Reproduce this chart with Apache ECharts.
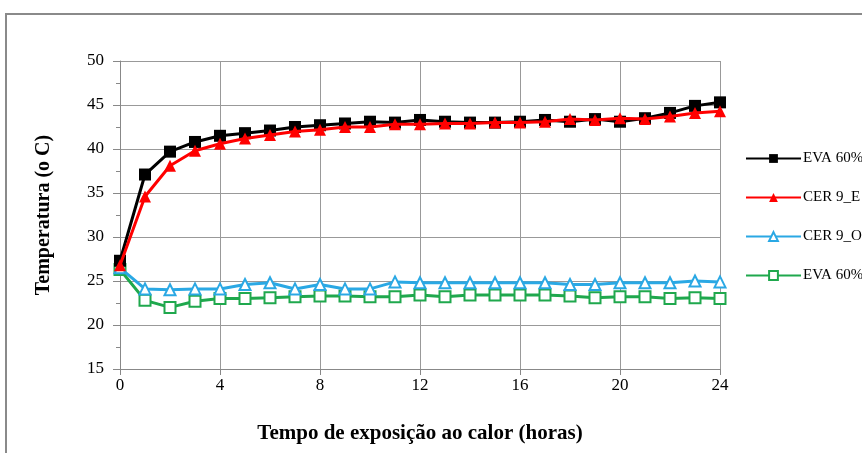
<!DOCTYPE html>
<html>
<head>
<meta charset="utf-8">
<script src="https://cdn.jsdelivr.net/npm/echarts@6/dist/echarts.min.js"></script>
<style>
html,body{margin:0;padding:0;background:#fff;}
#chart{width:862px;height:453px;}
</style>
</head>
<body>
<div id="chart"></div>
<script>
const hours = [0,1,2,3,4,5,6,7,8,9,10,11,12,13,14,15,16,17,18,19,20,21,22,23,24];
const evaE = [27.3,37.1,39.7,40.8,41.5,41.8,42.1,42.5,42.7,42.9,43.1,43.0,43.3,43.1,43.0,43.0,43.1,43.3,43.1,43.4,43.1,43.5,44.1,44.9,45.3];
const cerE = [26.8,34.6,38.1,39.8,40.6,41.2,41.6,42.0,42.2,42.5,42.5,42.8,42.8,42.9,42.9,43.0,43.0,43.1,43.4,43.3,43.5,43.4,43.7,44.1,44.3];
const cerO = [26.5,24.1,24.0,24.1,24.1,24.6,24.8,24.1,24.6,24.1,24.1,24.9,24.8,24.8,24.8,24.8,24.8,24.8,24.6,24.6,24.8,24.8,24.8,25.0,24.9];
const evaO = [26.3,22.8,22.0,22.7,23.0,23.0,23.1,23.2,23.3,23.3,23.2,23.2,23.4,23.2,23.4,23.4,23.4,23.4,23.3,23.1,23.2,23.2,23.0,23.1,23.0];
const names = ['EVA 60%_E','CER 9_E','CER 9_O','EVA 60%_O'];
const xTitle = 'Tempo de exposição ao calor (horas)';
const yTitle = 'Temperatura (o C)';

const pair = arr => hours.map((h,i)=>[h,arr[i]]);
const font = 'Liberation Serif';
const chart = echarts.init(document.getElementById('chart'));
chart.setOption({
  animation:false,
  backgroundColor:'#fff',
  graphic:[{type:'rect',shape:{x:6,y:14,width:900,height:500},style:{fill:'none',stroke:'#8a8a8a',lineWidth:2},silent:true}],
  grid:{left:120,right:142,top:61,bottom:84},
  legend:{
    orient:'vertical', left:740, top:146, itemGap:24, itemWidth:55, itemHeight:11,
    textStyle:{fontFamily:font,fontSize:15,color:'#000',padding:[0,0,0,-3]},
    data:names
  },
  xAxis:{
    type:'value', min:0, max:24, interval:4,
    name:xTitle, nameLocation:'middle', nameGap:54,
    nameTextStyle:{fontFamily:font,fontSize:21,fontWeight:'bold',color:'#000'},
    axisLine:{lineStyle:{color:'#888',width:1}},
    axisTick:{show:true,length:6,lineStyle:{color:'#888'}},
    axisLabel:{fontFamily:font,fontSize:17,color:'#000',margin:8},
    splitLine:{show:true,lineStyle:{color:'#999',width:1}}
  },
  yAxis:{
    type:'value', min:15, max:50, interval:5,
    name:yTitle, nameLocation:'middle', nameGap:66, nameRotate:90,
    nameTextStyle:{fontFamily:font,fontSize:20,fontWeight:'bold',color:'#000'},
    axisLine:{show:true,lineStyle:{color:'#888',width:1}},
    axisTick:{show:true,length:7,lineStyle:{color:'#888'}},
    minorTick:{show:true,splitNumber:2,length:4,lineStyle:{color:'#888'}},
    axisLabel:{fontFamily:font,fontSize:17,color:'#000',margin:16},
    splitLine:{show:true,lineStyle:{color:'#999',width:1}}
  },
  series:[
    {name:names[3],type:'line',data:pair(evaO),symbol:'rect',symbolSize:11,
     lineStyle:{color:'#1fa84d',width:3},itemStyle:{color:'#fff',borderColor:'#1fa84d',borderWidth:2},color:'#1fa84d',z:2},
    {name:names[2],type:'line',data:pair(cerO),symbol:'triangle',symbolSize:11,
     lineStyle:{color:'#2aa8e4',width:3},itemStyle:{color:'#fff',borderColor:'#2aa8e4',borderWidth:2},color:'#2aa8e4',z:3},
    {name:names[0],type:'line',data:pair(evaE),symbol:'rect',symbolSize:12,
     lineStyle:{color:'#000',width:3},itemStyle:{color:'#000'},color:'#000',z:4},
    {name:names[1],type:'line',data:pair(cerE),symbol:'triangle',symbolSize:12,
     lineStyle:{color:'#ff0000',width:3},itemStyle:{color:'#ff0000'},color:'#ff0000',z:5}
  ]
});
</script>
</body>
</html>
